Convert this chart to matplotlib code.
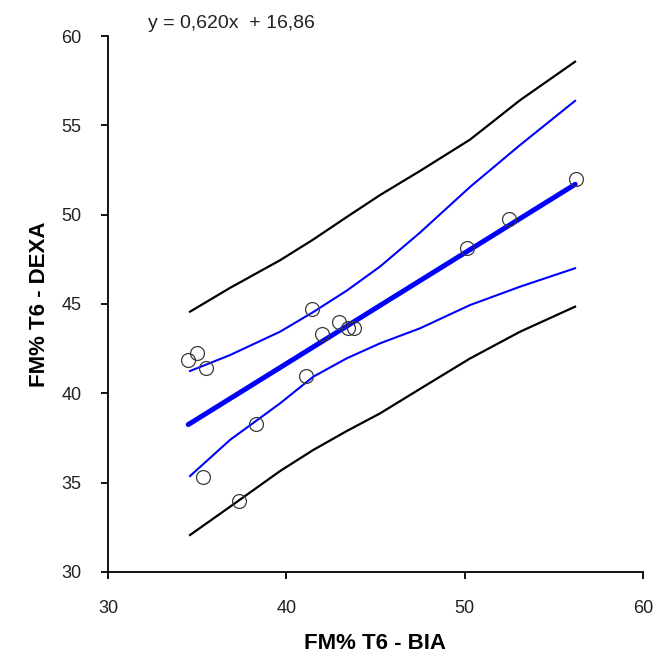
import matplotlib
matplotlib.use("Agg")
import matplotlib.pyplot as plt

plt.rcParams["font.family"] = ["Liberation Sans", "DejaVu Sans"]

# observed points (BIA vs DEXA, FM% at T6)
bia = [34.50, 35.01, 35.50, 35.31, 37.36, 38.30, 41.09, 41.42, 41.99,
       42.97, 43.48, 43.81, 50.12, 52.51, 56.25]
dexa = [41.86, 42.24, 41.40, 35.33, 33.99, 38.28, 40.98, 44.70, 43.32,
        44.01, 43.67, 43.67, 48.11, 49.74, 51.99]

# fitted line y = 0.620x + 16.86, drawn over the data range
fit_x = [34.5, 56.2]
fit_y = [38.25, 51.70]

# confidence (blue) and prediction (black) bands
band_x = [34.60, 36.84, 39.65, 41.51, 43.39, 45.26, 47.50, 50.30, 53.11, 56.19]
ci_upper = [41.25, 42.14, 43.45, 44.55, 45.75, 47.10, 49.00, 51.55, 53.90, 56.37]
ci_lower = [35.37, 37.39, 39.44, 40.93, 41.96, 42.80, 43.64, 44.94, 45.97, 47.00]
pi_upper = [44.57, 45.90, 47.45, 48.61, 49.87, 51.10, 52.45, 54.20, 56.41, 58.56]
pi_lower = [32.07, 33.65, 35.65, 36.83, 37.89, 38.88, 40.25, 41.95, 43.45, 44.85]

fig = plt.figure(figsize=(6.59, 6.57), dpi=100)
ax = fig.add_axes([0.1639, 0.1294, 0.8118, 0.8158])

ax.plot(band_x, pi_upper, color="black", lw=1.6)
ax.plot(band_x, pi_lower, color="black", lw=1.6)
ax.plot(band_x, ci_upper, color="#0000ff", lw=1.5)
ax.plot(band_x, ci_lower, color="#0000ff", lw=1.5)
ax.plot(fit_x, fit_y, color="#0000ff", lw=3.6, solid_capstyle="round")
ax.plot(bia, dexa, "o", ms=10, mfc="none", mec="#3a3a3a", mew=0.9, zorder=5)

ax.set_xlim(30, 60)
ax.set_ylim(30, 60)
ax.set_xticks([30, 40, 50, 60])
ax.set_yticks([30, 35, 40, 45, 50, 55, 60])
for s in ("top", "right"):
    ax.spines[s].set_visible(False)
for s in ("left", "bottom"):
    ax.spines[s].set_linewidth(1.3)
ax.tick_params(direction="out", length=5, width=1.3, labelsize=13,
               labelcolor="#222222")
ax.tick_params(axis="x", pad=15)
ax.tick_params(axis="y", pad=14)

ax.set_xlabel("FM% T6 - BIA", fontsize=16, fontweight="bold", labelpad=12)
ax.set_ylabel("FM% T6 - DEXA", fontsize=16, fontweight="bold", labelpad=8)

fig.text(0.2246, 0.957, "y = 0,620x  + 16,86", fontsize=14, color="#222222")

fig.savefig("out.png", dpi=100)
